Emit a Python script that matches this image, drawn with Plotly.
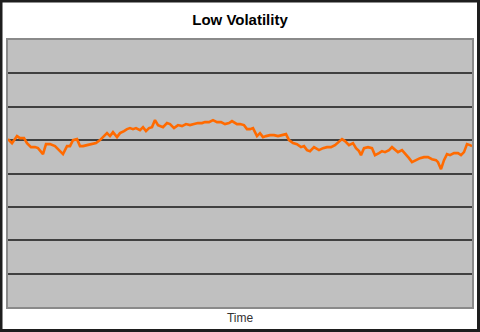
import plotly.graph_objects as go

# Simulated low-volatility price path (time step, price level)
day = [0, 4, 9, 12, 16, 19, 23, 27, 30, 35, 38, 42, 47, 50, 55, 59, 62, 65, 69,
       72, 75, 79, 84, 88, 92, 96, 99, 102, 105, 109, 112, 116, 119, 122, 125,
       128, 132, 135, 138, 141, 144, 147, 150, 155, 159, 162, 166, 170, 174,
       178, 182, 186, 190, 194, 197, 201, 205, 209, 213, 217, 221, 224, 229,
       232, 236, 239, 242, 245, 249, 252, 255, 258, 262, 266, 270, 274, 278,
       281, 285, 289, 293, 296, 299, 302, 306, 311, 315, 319, 323, 327, 331,
       334, 337, 341, 345, 348, 351, 353, 356, 360, 364, 367, 371, 374, 377,
       381, 384, 390, 394, 397, 401, 404, 408, 412, 416, 420, 424, 428, 430,
       433, 436, 439, 442, 446, 450, 453, 456, 459, 462, 464]
price = [100.3, 99.1, 101.2, 100.6, 100.6, 99.1, 97.9, 97.9, 97.6, 95.8, 98.8,
         98.8, 98.2, 97.3, 95.8, 98.2, 98.2, 100.0, 100.3, 98.2, 98.2, 98.5,
         98.8, 99.1, 100.0, 101.2, 102.1, 101.2, 102.4, 100.9, 102.1, 102.7,
         103.3, 103.6, 103.3, 103.6, 103.0, 103.9, 102.7, 103.6, 103.9, 106.0,
         104.5, 103.9, 105.1, 104.8, 103.6, 104.5, 104.2, 104.8, 104.5, 104.8,
         105.1, 105.1, 105.4, 105.4, 106.0, 105.4, 105.4, 104.8, 105.1, 105.7,
         104.8, 104.8, 104.5, 103.3, 103.3, 103.6, 101.2, 102.1, 100.9, 101.2,
         101.5, 101.5, 101.2, 101.5, 101.8, 100.0, 99.1, 98.8, 97.9, 98.2, 97.0,
         96.7, 97.9, 97.0, 97.6, 97.9, 97.9, 98.5, 99.7, 100.3, 99.7, 98.5, 99.1,
         97.6, 96.7, 95.5, 97.6, 97.9, 97.6, 95.5, 96.1, 96.7, 96.4, 97.0, 97.9,
         96.4, 97.0, 96.1, 94.6, 93.4, 94.0, 94.6, 94.9, 94.9, 94.3, 94.0, 93.4,
         91.3, 94.0, 95.8, 95.5, 96.1, 96.1, 95.5, 96.4, 98.8, 98.5, 98.2]

y_range = [50, 130]
y_step = 10

fig = go.Figure()
fig.add_trace(go.Scatter(
    x=day, y=price, mode="lines",
    line=dict(color="#ff6a00", width=2.6),
    hoverinfo="skip", showlegend=False,
))

fig.update_layout(
    width=480, height=332,
    margin=dict(l=8, r=8, t=40, b=25),
    paper_bgcolor="white",
    plot_bgcolor="#c0c0c0",
    title=dict(text="<b>Low Volatility</b>", x=0.5, xanchor="center",
               y=1 - 20 / 332, yanchor="middle",
               font=dict(family="Liberation Sans, Arial, sans-serif",
                         size=15, color="black")),
    xaxis=dict(range=[day[0], day[-1]], showgrid=False, zeroline=False,
               showticklabels=False, ticks="",
               showline=True, mirror=True, linecolor="#8a8a8a", linewidth=1.5,
               title=dict(text="Time", standoff=6,
                          font=dict(family="Liberation Sans, Arial, sans-serif",
                                    size=12, color="#333333")),
               automargin=False),
    yaxis=dict(range=y_range, dtick=y_step, tick0=y_range[0],
               showgrid=True, gridcolor="#404040", gridwidth=1.5,
               zeroline=False, showticklabels=False, ticks="",
               showline=True, mirror=True, linecolor="#8a8a8a", linewidth=1.5,
               automargin=False),
    shapes=[dict(type="rect", xref="paper", yref="paper",
                 x0=(1 - 8) / 464, x1=(478.5 - 8) / 464,
                 y0=(307 - 330.5) / 267, y1=(307 - 1) / 267,
                 line=dict(color="#1e1e1e", width=3), fillcolor="rgba(0,0,0,0)",
                 layer="above")],
)

fig.write_html("out.html")
